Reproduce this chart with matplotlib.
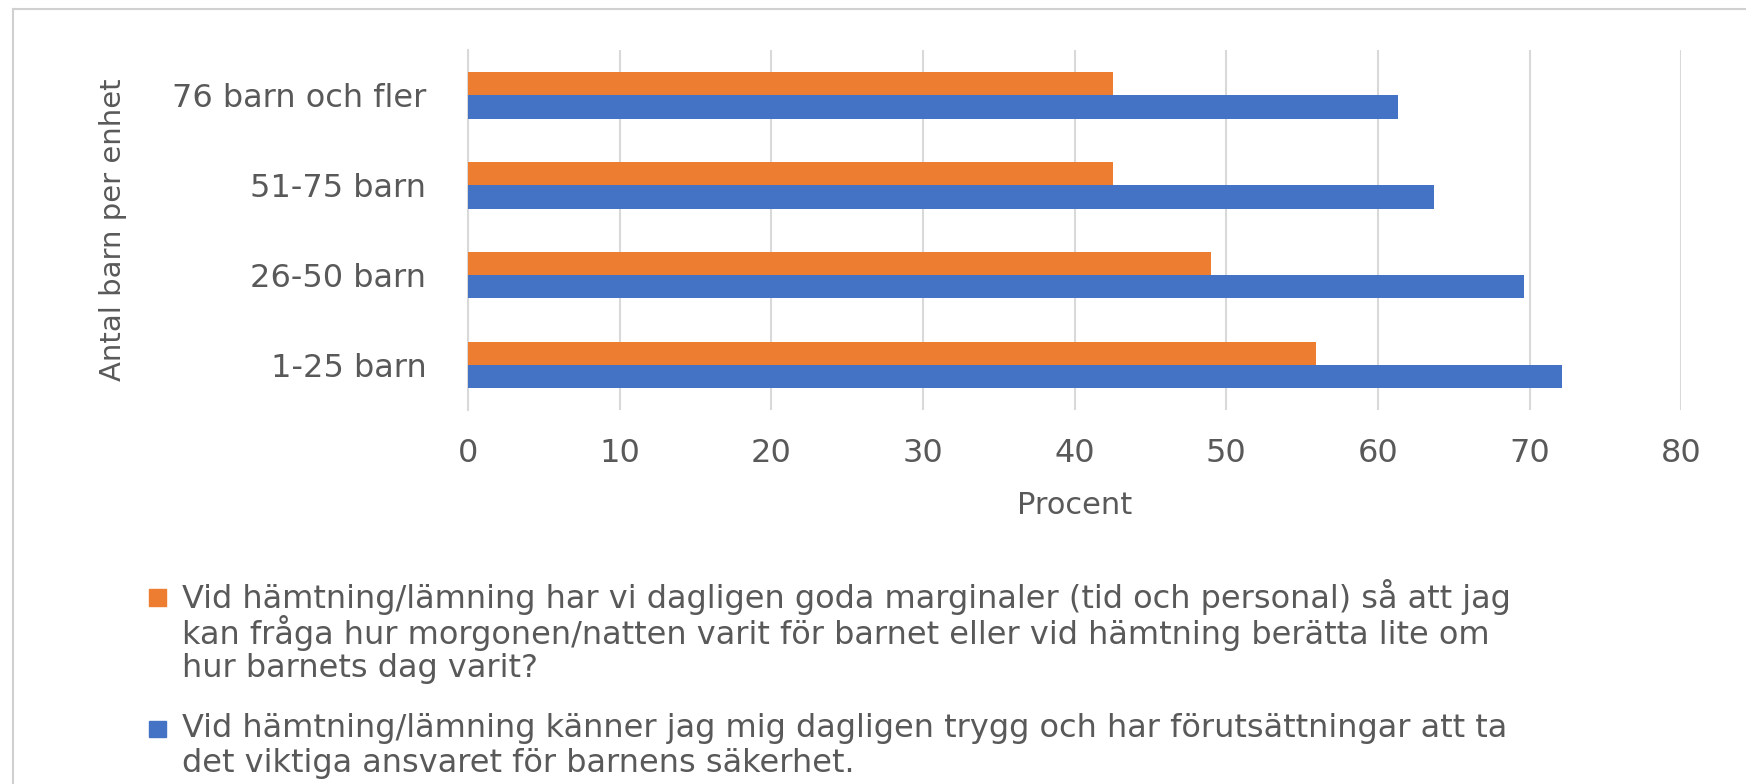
import matplotlib.pyplot as plt
from matplotlib.lines import Line2D
from matplotlib.patches import Rectangle

# Data
categories = ["76 barn och fler", "51-75 barn", "26-50 barn", "1-25 barn"]
marginaler = [42.5, 42.5, 49.0, 55.9]   # orange series
trygg = [61.3, 63.7, 69.6, 72.1]        # blue series
xticks = [0, 10, 20, 30, 40, 50, 60, 70, 80]

label_orange = ["Vid hämtning/lämning har vi dagligen goda marginaler (tid och personal) så att jag",
                "kan fråga hur morgonen/natten varit för barnet eller vid hämtning berätta lite om",
                "hur barnets dag varit?"]
label_blue = ["Vid hämtning/lämning känner jag mig dagligen trygg och har förutsättningar att ta",
              "det viktiga ansvaret för barnens säkerhet."]

orange = "#ED7D31"
blue = "#4472C4"
textc = "#595959"
gridc = "#D9D9D9"

plt.rcParams['font.family'] = ['DejaVu Sans']

fig = plt.figure(figsize=(17.46, 7.84), dpi=100)
ax = fig.add_axes([0.268, 0.477, 0.695, 0.459])

h = 0.26
pos = [3 - i for i in range(len(categories))]
ax.barh([p + h / 2 for p in pos], marginaler, height=h, color=orange, zorder=3)
ax.barh([p - h / 2 for p in pos], trygg, height=h, color=blue, zorder=3)

ax.set_xlim(0, 80)
ax.set_ylim(-0.5, 3.5)
ax.set_xticks(xticks)
ax.set_xticklabels([str(t) for t in xticks], fontsize=23, color=textc)
ax.set_yticks(pos)
ax.set_yticklabels(categories, fontsize=23, color=textc)
ax.tick_params(axis='both', length=0)
ax.tick_params(axis='x', pad=20)
ax.tick_params(axis='y', pad=30)

ax.grid(axis='x', color=gridc, linewidth=1.5, zorder=0)
for side in ["top", "right", "bottom"]:
    ax.spines[side].set_visible(False)
ax.spines["left"].set_color(gridc)
ax.spines["left"].set_linewidth(1.5)

ax.set_xlabel("Procent", fontsize=22, color=textc, labelpad=16)
ax.set_ylabel("Antal barn per enhet", fontsize=21, color=textc, labelpad=32)

# legend, drawn line by line under the chart
W, H = 1568.0, 704.0
def legend_entry(lines, color, y0, step=32):
    fig.add_artist(Rectangle((134 / W, 1 - (y0 + 8) / H), 15 / W, 15 / H,
                             transform=fig.transFigure, color=color))
    for i, line in enumerate(lines):
        fig.text(163 / W, 1 - (y0 + i * step) / H, line, fontsize=23, color=textc,
                 ha="left", va="center")

legend_entry(label_orange, orange, 536)
legend_entry(label_blue, blue, 654)

# chart frame (left and top edges visible)
fig.add_artist(Line2D([0.0077, 0.0077], [0.0, 0.989], transform=fig.transFigure,
                      color="#D0D0D0", linewidth=1.5))
fig.add_artist(Line2D([0.0077, 1.0], [0.989, 0.989], transform=fig.transFigure,
                      color="#D0D0D0", linewidth=1.5))

fig.savefig("out.png", dpi=100)
